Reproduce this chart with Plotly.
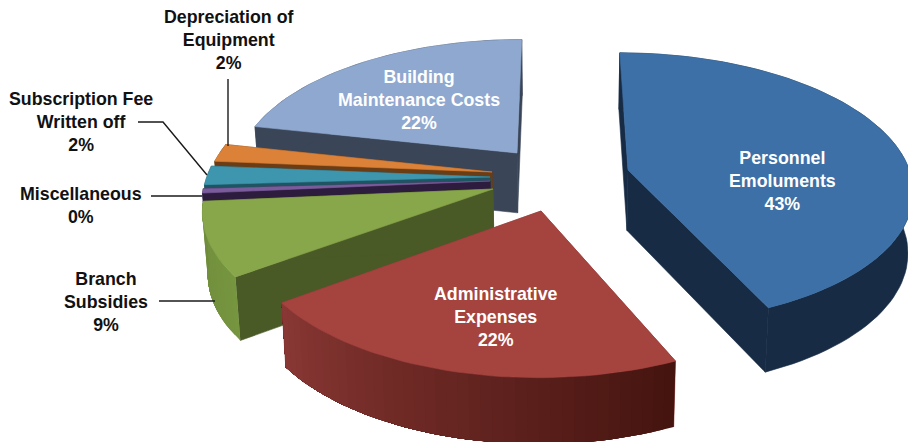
import math
import plotly.graph_objects as go

# Data
categories = ["Personnel<br>Emoluments", "Administrative<br>Expenses", "Branch<br>Subsidies",
              "Miscellaneous", "Subscription Fee<br>Written off", "Depreciation of<br>Equipment",
              "Building<br>Maintenance Costs"]
values = [43.3, 21.7, 8.6, 0.5, 2.2, 2.1, 21.6]

# Styling and projection
top_colors = ["#3d70a6", "#a5433f", "#88a64a", "#7a5c9c", "#3e96ae", "#db8138", "#8fa8cf"]
cut_colors = ["#172b45", "#8a3835", "#4a5a27", "#2d1c3e", "#1f5562", "#6b3d16", "#3a4558"]
wall_from = ["#172b45", "#45140f", "#76953f", "#2d1c3e", "#1f5562", "#6b3d16", "#3a4558"]
wall_to = ["#172b45", "#8a3835", "#6f8c3c", "#2d1c3e", "#1f5562", "#6b3d16", "#3a4558"]
apexes = [(628, 170), (541, 211), (493, 189), (490, 181), (490, 177), (492, 172), (517, 153)]
draw_order = [6, 5, 4, 3, 2, 1, 0]
label_pos = [(782, 181), (496, 317), (106, 302), (81, 205), (81, 122), (229, 40), (419, 100)]
label_col = ["white", "white", "#111111", "#111111", "#111111", "#111111", "white"]
leaders = [([228, 228], [79, 146]), ([138, 163, 207], [122, 122, 175]),
           ([151, 202], [196, 196]), ([159, 215], [301, 301])]
OX, OY, A, B, K = 558.0, 190.0, 287.0, 138.0, 0.135
DEPTH, SHRINK = 61.0, 0.985


def project(x, y, low=False):
    w = 1 + K * y
    u, v = A * x / w, -B * y / w
    if low:
        return OX + u * SHRINK, OY + v + DEPTH / (1 + 0.07 * y)
    return OX + u, OY + v


def hex_mix(c1, c2, t):
    a = [int(c1[i:i + 2], 16) for i in (1, 3, 5)]
    b = [int(c2[i:i + 2], 16) for i in (1, 3, 5)]
    return "#%02x%02x%02x" % tuple(round(p + (q - p) * t) for p, q in zip(a, b))


fig = go.Figure()


def poly(pts, color, lw=0.6):
    xs = [p[0] for p in pts] + [pts[0][0]]
    ys = [p[1] for p in pts] + [pts[0][1]]
    fig.add_trace(go.Scatter(x=xs, y=ys, mode="lines", fill="toself", fillcolor=color,
                             line=dict(color=color, width=lw), hoverinfo="skip", showlegend=False))


total = sum(values)
starts, a0 = [], 0.0
for v in values:
    starts.append(a0)
    a0 += v / total * 360

for i in draw_order:
    sx, sy = apexes[i]
    u0, v0 = sx - OX, sy - OY
    oy = -v0 / (B + K * v0)
    ox = u0 * (1 + K * oy) / A
    t0 = starts[i]
    t1 = t0 + values[i] / total * 360
    n = max(3, int((t1 - t0) / 2))
    angs = [math.radians(t0 + (t1 - t0) * j / n) for j in range(n + 1)]
    rim = [(ox + math.sin(t), oy + math.cos(t)) for t in angs]
    # cut faces
    for r in (rim[0], rim[-1]):
        poly([project(ox, oy), project(*r), project(*r, True), project(ox, oy, True)], cut_colors[i])
    # outer wall
    if wall_from[i] == wall_to[i]:
        poly([project(*r) for r in rim] + [project(*r, True) for r in reversed(rim)], wall_from[i])
    else:
        # each strip runs on under the next one, so no seams show
        for j in range(n):
            col = hex_mix(wall_from[i], wall_to[i], j / n)
            rest = rim[j:]
            poly([project(*r) for r in rest] + [project(*r, True) for r in reversed(rest)], col, 0)
    # top
    poly([project(ox, oy)] + [project(*r) for r in rim], top_colors[i])

for lx, ly in leaders:
    fig.add_trace(go.Scatter(x=lx, y=ly, mode="lines", line=dict(color="#1a1a1a", width=1.4),
                             hoverinfo="skip", showlegend=False))

for name, v, (x, y), col in zip(categories, values, label_pos, label_col):
    fig.add_annotation(x=x, y=y, xref="x", yref="y", text=f"<b>{name}<br>{round(v)}%</b>", showarrow=False,
                       align="center", xanchor="center", yanchor="middle",
                       font=dict(family="Liberation Sans", size=17.8, color=col))

fig.update_layout(width=908, height=442, margin=dict(l=0, r=0, t=0, b=0), showlegend=False,
                  paper_bgcolor="white", plot_bgcolor="white",
                  xaxis=dict(range=[0, 908], visible=False, fixedrange=True),
                  yaxis=dict(range=[442, 0], visible=False, fixedrange=True))
fig.write_html("out.html", config={"displayModeBar": False},
               post_script="document.body.style.margin='0';document.body.style.overflow='hidden';")
